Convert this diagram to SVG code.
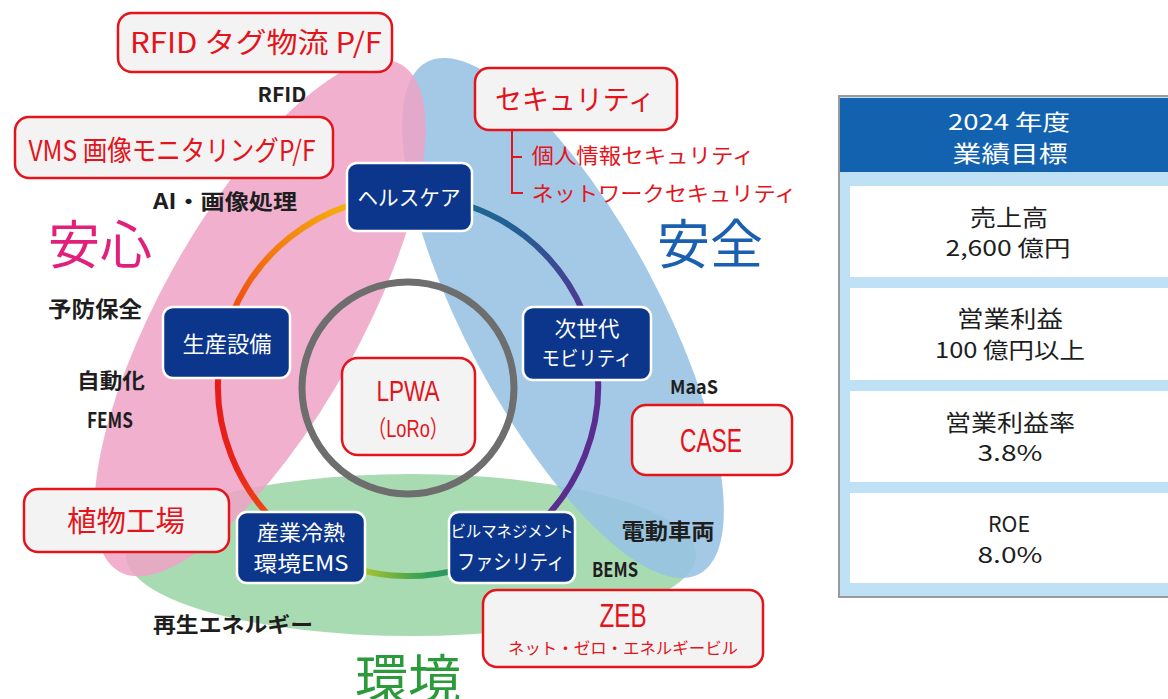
<svg xmlns="http://www.w3.org/2000/svg" width="1168" height="699" viewBox="0 0 1168 699">
<style>
text{font-family:"Noto Sans CJK JP","Liberation Sans",sans-serif;text-anchor:middle}
text.lat{font-family:"Liberation Sans","Noto Sans CJK JP",sans-serif}
.rbox{fill:#f3f3f3;stroke:#e3141c;stroke-width:2.5}
.nbox{fill:#0b368c;stroke:#ffffff;stroke-width:2.5}
.red{fill:#e3141c}
.blk{fill:#1e1e1e;font-weight:bold}
.pnl{fill:#1e1e1e}
.wht{fill:#ffffff}
.ring{fill:none;stroke-width:6}
.cell{fill:#ffffff}
</style>
<defs>
<linearGradient id="g1" gradientUnits="userSpaceOnUse" x1="408" y1="196" x2="592.4" y2="340"><stop offset="0" stop-color="#17708f"/><stop offset="0.45" stop-color="#245f93"/><stop offset="1" stop-color="#5a2d91"/></linearGradient>
<linearGradient id="g3" gradientUnits="userSpaceOnUse" x1="301.8" y1="543.5" x2="511.5" y2="545.4"><stop offset="0" stop-color="#f2c41c"/><stop offset="0.3" stop-color="#a9c232"/><stop offset="0.6" stop-color="#2f9e55"/><stop offset="1" stop-color="#2a7e8a"/></linearGradient>
<linearGradient id="g4" gradientUnits="userSpaceOnUse" x1="301.8" y1="543.5" x2="222.9" y2="343.3"><stop offset="0" stop-color="#f26412"/><stop offset="0.45" stop-color="#e8221a"/><stop offset="1" stop-color="#e81818"/></linearGradient>
<linearGradient id="g5" gradientUnits="userSpaceOnUse" x1="222.9" y1="343.3" x2="408" y2="196"><stop offset="0" stop-color="#ee3a12"/><stop offset="0.4" stop-color="#f27a10"/><stop offset="0.8" stop-color="#f5b30c"/><stop offset="1" stop-color="#f6cc14"/></linearGradient>
</defs>
<rect width="1168" height="699" fill="#ffffff"/>

<g id="areas">
<ellipse id="area-env" cx="411" cy="555" rx="285" ry="81" fill="#a9dbb3"/>
<ellipse id="area-safety" cx="563" cy="318" rx="290" ry="97" transform="rotate(62 563 318)" fill="#96c2e4" opacity="0.88"/>
<ellipse id="area-security" cx="260" cy="318" rx="290" ry="100" transform="rotate(-61 260 318)" fill="#eea3c6" opacity="0.86"/>
</g>

<g id="connectors">
<path class="ring" stroke="url(#g1)" d="M408 196A190 190 0 0 1 592.4 340"/>
<path class="ring" stroke="#5b2d90" d="M592.4 340A190 190 0 0 1 511.5 545.4"/>
<path class="ring" stroke="url(#g3)" d="M511.5 545.4A190 190 0 0 1 301.8 543.5"/>
<path class="ring" stroke="url(#g4)" d="M301.8 543.5A190 190 0 0 1 222.9 343.3"/>
<path class="ring" stroke="url(#g5)" d="M222.9 343.3A190 190 0 0 1 408 196"/>
<circle cx="408" cy="388" r="106" fill="none" stroke="#6e6e6e" stroke-width="7"/>
<path d="M512 130V193H523M512 157H522" fill="none" stroke="#e3141c" stroke-width="2"/>
</g>

<g id="title-anshin"><text x="100" y="264" font-size="52" fill="#e0207a">安心</text></g>
<g id="title-anzen"><text x="710" y="264" font-size="53" fill="#1a5fb0">安全</text></g>
<g id="title-kankyo"><text x="408" y="699" font-size="53" fill="#2a9a3a">環境</text></g>

<g id="rfid"><rect class="rbox" x="118" y="13" width="274" height="59" rx="14"/><text class="red" x="256" y="53" font-size="28" textLength="252" lengthAdjust="spacingAndGlyphs">RFID タグ物流 P/F</text></g>
<g id="vms"><rect class="rbox" x="15" y="117" width="318" height="61" rx="14"/><text class="red" x="172" y="161" font-size="28" textLength="287" lengthAdjust="spacingAndGlyphs">VMS 画像モニタリングP/F</text></g>
<g id="security"><rect class="rbox" x="475" y="68" width="202" height="62" rx="14"/><text class="red" x="575" y="110" font-size="28" textLength="160" lengthAdjust="spacingAndGlyphs">セキュリティ</text></g>
<g id="sec-personal"><text class="red" x="643" y="163" font-size="21" textLength="223" lengthAdjust="spacingAndGlyphs">個人情報セキュリティ</text></g>
<g id="sec-network"><text class="red" x="664" y="201" font-size="21" textLength="265" lengthAdjust="spacingAndGlyphs">ネットワークセキュリティ</text></g>
<g id="case"><rect class="rbox" x="632" y="405" width="160" height="70" rx="14"/><text class="red lat" x="711" y="452" font-size="33" textLength="62" lengthAdjust="spacingAndGlyphs">CASE</text></g>
<g id="plant"><rect class="rbox" x="24" y="489" width="205" height="63" rx="14"/><text class="red" x="126" y="532" font-size="29" textLength="118" lengthAdjust="spacingAndGlyphs">植物工場</text></g>
<g id="zeb"><rect class="rbox" x="483" y="590" width="280" height="77" rx="14"/><text class="red lat" x="623" y="627" font-size="33" textLength="47" lengthAdjust="spacingAndGlyphs">ZEB</text><text class="red" x="623" y="654" font-size="16" textLength="230" lengthAdjust="spacingAndGlyphs">ネット・ゼロ・エネルギービル</text></g>
<g id="lpwa"><rect class="rbox" x="342" y="358" width="133" height="97" rx="16"/><text class="red lat" x="408" y="401" font-size="30" textLength="63" lengthAdjust="spacingAndGlyphs">LPWA</text><text class="red lat" x="408" y="437" font-size="24" textLength="80" lengthAdjust="spacingAndGlyphs">（LoRo）</text></g>

<g id="healthcare"><rect class="nbox" x="347" y="163" width="125" height="68" rx="10"/><text class="wht" x="409" y="205" font-size="21" textLength="103" lengthAdjust="spacingAndGlyphs">ヘルスケア</text></g>
<g id="production"><rect class="nbox" x="163" y="307" width="127" height="71" rx="10"/><text class="wht" x="227" y="352" font-size="22" textLength="89" lengthAdjust="spacingAndGlyphs">生産設備</text></g>
<g id="mobility"><rect class="nbox" x="523" y="307" width="128" height="73" rx="10"/><text class="wht" x="587" y="336" font-size="21" textLength="65" lengthAdjust="spacingAndGlyphs">次世代</text><text class="wht" x="587" y="366" font-size="20" textLength="91" lengthAdjust="spacingAndGlyphs">モビリティ</text></g>
<g id="cooling"><rect class="nbox" x="237" y="512" width="128" height="71" rx="10"/><text class="wht" x="301" y="540" font-size="21" textLength="88" lengthAdjust="spacingAndGlyphs">産業冷熱</text><text class="wht" x="301" y="571" font-size="21" textLength="95" lengthAdjust="spacingAndGlyphs">環境EMS</text></g>
<g id="building"><rect class="nbox" x="449" y="512" width="126" height="71" rx="10"/><text class="wht" x="512" y="537" font-size="16" textLength="123" lengthAdjust="spacingAndGlyphs">ビルマネジメント</text><text class="wht" x="511" y="569" font-size="21" textLength="108" lengthAdjust="spacingAndGlyphs">ファシリティ</text></g>

<g id="labels">
<text class="blk" x="282" y="102" font-size="20" textLength="49" lengthAdjust="spacingAndGlyphs">RFID</text>
<text class="blk" x="225" y="209" font-size="21" textLength="144" lengthAdjust="spacingAndGlyphs">AI・画像処理</text>
<text class="blk" x="95" y="317" font-size="22" textLength="94" lengthAdjust="spacingAndGlyphs">予防保全</text>
<text class="blk" x="111" y="388" font-size="21" textLength="68" lengthAdjust="spacingAndGlyphs">自動化</text>
<text class="blk" x="110" y="428" font-size="21" textLength="46" lengthAdjust="spacingAndGlyphs">FEMS</text>
<text class="blk" x="694" y="394" font-size="19" textLength="48" lengthAdjust="spacingAndGlyphs">MaaS</text>
<text class="blk" x="668" y="539" font-size="22" textLength="93" lengthAdjust="spacingAndGlyphs">電動車両</text>
<text class="blk" x="615" y="577" font-size="20" textLength="46" lengthAdjust="spacingAndGlyphs">BEMS</text>
<text class="blk" x="233" y="632" font-size="21" textLength="160" lengthAdjust="spacingAndGlyphs">再生エネルギー</text>
</g>

<g id="targets">
<rect x="839" y="96" width="340" height="501" fill="#bfe1f5" stroke="#9a9a9a" stroke-width="2"/>
<rect x="840" y="98" width="330" height="74" fill="#1262b0"/>
<text class="wht" x="1009" y="130" font-size="22" textLength="122" lengthAdjust="spacingAndGlyphs">2024 年度</text>
<text class="wht" x="1010" y="162" font-size="23" textLength="115" lengthAdjust="spacingAndGlyphs">業績目標</text>
<rect class="cell" x="850" y="186" width="330" height="91"/>
<rect class="cell" x="850" y="288" width="330" height="92"/>
<rect class="cell" x="850" y="391" width="330" height="91"/>
<rect class="cell" x="850" y="493" width="330" height="90"/>
<text class="pnl" x="1009" y="226" font-size="23" textLength="78" lengthAdjust="spacingAndGlyphs">売上高</text>
<text class="pnl" x="1008" y="256" font-size="22" textLength="125" lengthAdjust="spacingAndGlyphs">2,600 億円</text>
<text class="pnl" x="1010" y="327" font-size="23" textLength="106" lengthAdjust="spacingAndGlyphs">営業利益</text>
<text class="pnl" x="1010" y="358" font-size="22" textLength="150" lengthAdjust="spacingAndGlyphs">100 億円以上</text>
<text class="pnl" x="1010" y="431" font-size="23" textLength="130" lengthAdjust="spacingAndGlyphs">営業利益率</text>
<text class="pnl" x="1010" y="461" font-size="22" textLength="65" lengthAdjust="spacingAndGlyphs">3.8%</text>
<text class="pnl" x="1009" y="532" font-size="22" textLength="42" lengthAdjust="spacingAndGlyphs">ROE</text>
<text class="pnl" x="1010" y="563" font-size="22" textLength="65" lengthAdjust="spacingAndGlyphs">8.0%</text>
</g>
</svg>
